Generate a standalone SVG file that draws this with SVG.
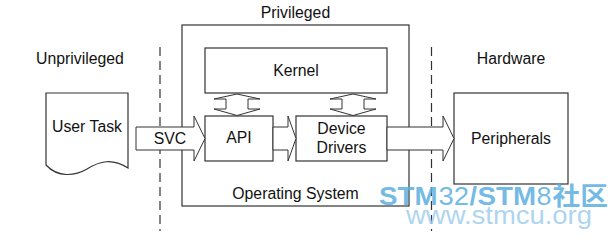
<svg xmlns="http://www.w3.org/2000/svg" width="616" height="243" viewBox="0 0 616 243">
<style>
.box{fill:#fff;stroke:#333;stroke-width:1.2}
.frame{fill:none;stroke:#333;stroke-width:1.2}
.arr{fill:#fff;stroke:#333;stroke-width:1;stroke-linejoin:miter}
.sep{stroke:#333;stroke-width:1.2;stroke-dasharray:9,5;fill:none}
.t{font-family:"Liberation Sans",Arial,Helvetica,sans-serif;font-size:15.8px;fill:#111;text-anchor:middle}
.wm{font-family:"Liberation Sans",Arial,"Noto Sans CJK SC",sans-serif;font-size:25px;fill:#5aaee0;fill-opacity:0.85}
.b{font-weight:bold}
.wm2{font-family:"Liberation Sans",Arial,sans-serif;font-size:26px;fill:#a3d0ee;fill-opacity:0.9}
</style>
<rect width="616" height="243" fill="#fff"/>
<g id="os">
<rect class="frame" x="182" y="25" width="227" height="181"/>
<text class="t" x="295.5" y="18">Privileged</text>
<text class="t" x="295.5" y="199">Operating System</text>
</g>
<g id="separators">
<line class="sep" x1="160" y1="47" x2="160" y2="231"/>
<line class="sep" x1="431.5" y1="47" x2="431.5" y2="231"/>
</g>
<g id="zone-labels">
<text class="t" x="80" y="64">Unprivileged</text>
<text class="t" x="511" y="64">Hardware</text>
</g>
<g id="user-task">
<path class="box" d="M46,93 H128 V168 C112,158 100,161 87,169 C75,176 58,178 46,165 Z"/>
<text class="t" x="87" y="132">User Task</text>
</g>
<g id="kernel">
<rect class="box" x="205" y="48" width="182" height="45"/>
<text class="t" x="296" y="76">Kernel</text>
</g>
<g id="api">
<rect class="box" x="205" y="116" width="68" height="45"/>
<text class="t" x="239" y="143">API</text>
</g>
<g id="device-drivers">
<rect class="box" x="296" y="116" width="91" height="45"/>
<text class="t" x="341.5" y="134">Device</text>
<text class="t" x="341.5" y="153">Drivers</text>
</g>
<g id="peripherals">
<rect class="box" x="454" y="93" width="114" height="91"/>
<text class="t" x="511" y="144">Peripherals</text>
</g>
<g id="connectors">
<polygon class="arr" points="136,127 194,127 194,116 205,138.5 194,161 194,150 136,150"/>
<polygon class="arr" points="273,127 288,127 288,116 296,138.5 288,161 288,150 273,150"/>
<polygon class="arr" points="387,127 443,127 443,116 454,138.5 443,161 443,150 387,150"/>
<polygon class="arr" points="237,94 260,99 248,99 248,109 260,109 237,115.5 214,109 226,109 226,99 214,99"/>
<polygon class="arr" points="353,94 376,99 364,99 364,109 376,109 353,115.5 330,109 342,109 342,99 330,99"/>
<text class="t" x="170" y="144">SVC</text>
</g>
<g id="watermark">
<text class="wm b" x="379" y="205" textLength="58.5" lengthAdjust="spacingAndGlyphs">STM</text>
<text class="wm" x="438.5" y="205" textLength="30.5" lengthAdjust="spacingAndGlyphs">32</text>
<text class="wm b" x="469.5" y="205" textLength="7.5" lengthAdjust="spacingAndGlyphs">/</text>
<text class="wm b" x="477.5" y="205" textLength="58.5" lengthAdjust="spacingAndGlyphs">STM</text>
<text class="wm" x="536.5" y="205" textLength="15" lengthAdjust="spacingAndGlyphs">8</text>
<text class="wm b" x="552.5" y="205" textLength="55.5" lengthAdjust="spacingAndGlyphs">社区</text>
<text class="wm2" x="406" y="224" textLength="186" lengthAdjust="spacingAndGlyphs">www.stmcu.org</text>
</g>
</svg>
